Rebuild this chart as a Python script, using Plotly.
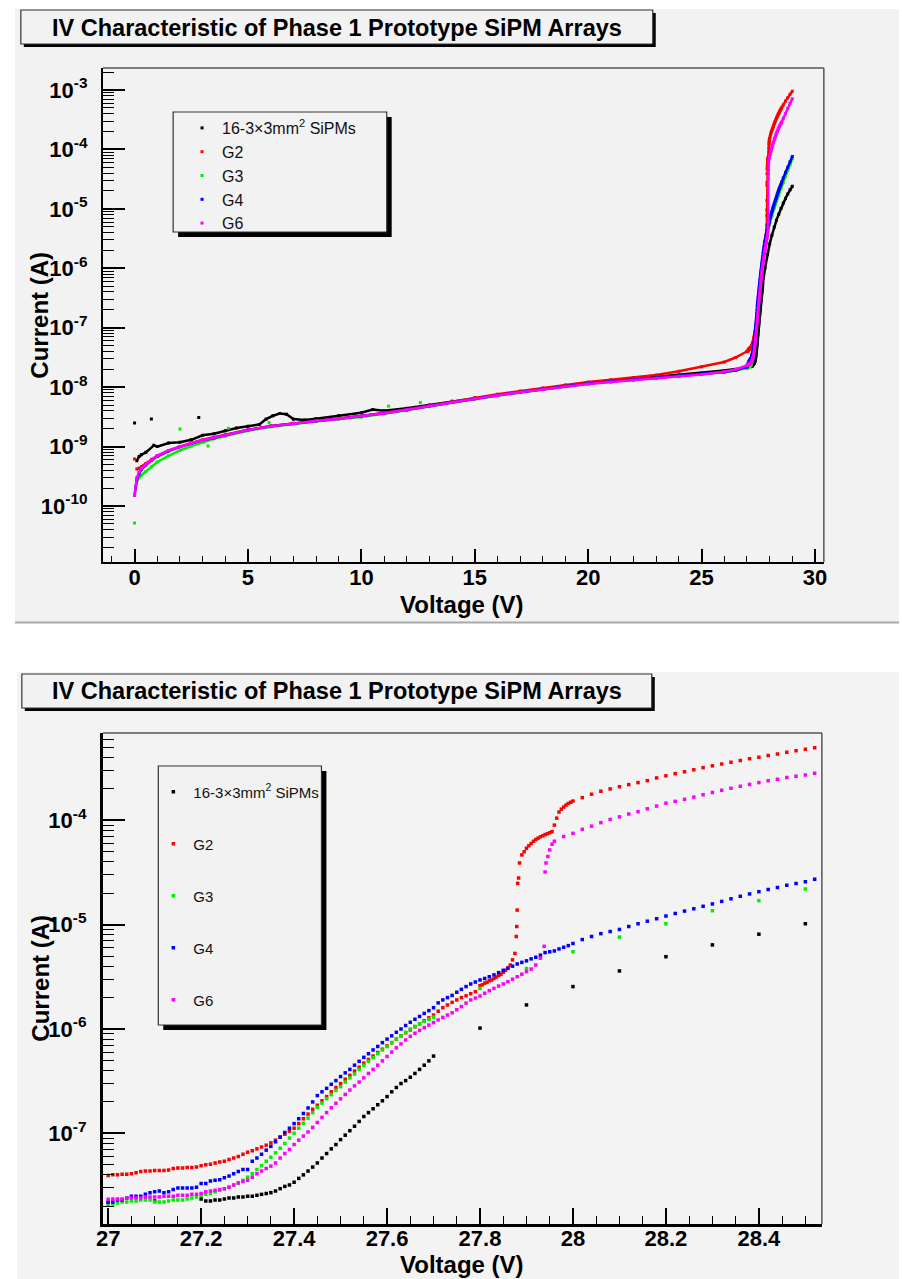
import plotly.graph_objects as go

W, H = 902, 1279
FONT = "Liberation Sans, Arial, Helvetica, sans-serif"


def sweep(start, stop, step):
    n = int(round((stop - start) / step)) + 1
    return [round(start + k * step, 4) for k in range(n)]


def px(x):
    return x / W


def py(y):
    return 1 - y / H


# ---------------- data ----------------
LOW_GRID = [0, 0.1, 0.2, 0.3, 0.5, 0.75, 1, 1.5, 2, 2.5, 3, 3.5, 4, 5, 6, 7, 8, 9, 10,
            11, 12, 13, 14, 15, 16, 17, 18, 19, 20, 21, 22, 23, 24, 25, 26, 26.5]
FINE_GRID = sweep(27.00, 27.70, 0.01)          # 0.01 V sweep
NEAR_GRID = sweep(27.71, 28.00, 0.01)          # 0.01 V sweep (blue)
AFTER_GRID = sweep(28.02, 28.54, 0.02)         # 0.02 V sweep
COARSE_GRID = [27.8, 27.9, 28.0, 28.1, 28.2, 28.3, 28.4, 28.5, 28.6, 28.7, 28.8, 28.9, 29.0]
TAIL_GRID = [28.6, 28.7, 28.8, 28.9, 29.0]

# 16-3x3mm2 SiPMs (black)
bk_v_low = [0.1, 0.2, 0.3, 0.5, 0.85, 1.0, 1.5, 2.0, 2.5, 3.0, 3.5, 4.0, 4.5, 5.0, 5.5, 5.8, 6.1,
            6.4, 6.7, 7.0, 7.5, 8, 9, 10, 10.5, 11, 12, 13, 14, 15, 16, 17, 18, 19, 20, 21, 22,
            23, 24, 25, 26, 27, 27.1]
bk_i_low = [5.8e-10, 6.8e-10, 7.3e-10, 8.0e-10, 1.05e-9, 1.0e-9, 1.15e-9, 1.18e-9, 1.3e-9,
            1.55e-9, 1.65e-9, 1.85e-9, 2.05e-9, 2.2e-9, 2.35e-9, 2.9e-9, 3.3e-9, 3.6e-9, 3.5e-9,
            2.9e-9, 2.8e-9, 2.95e-9, 3.3e-9, 3.7e-9, 4.2e-9, 4.0e-9, 4.4e-9, 5.0e-9, 5.8e-9,
            6.6e-9, 7.5e-9, 8.4e-9, 9.4e-9, 1.05e-8, 1.17e-8, 1.27e-8, 1.37e-8, 1.48e-8, 1.6e-8,
            1.72e-8, 1.9e-8, 2.15e-8, 2.25e-8]
bk_v_fine = sweep(27.20, 27.70, 0.01)
bk_i_fine = [2.35e-8, 2.25e-8, 2.25e-8, 2.3e-8, 2.3e-8, 2.35e-8, 2.4e-8, 2.4e-8, 2.45e-8, 2.45e-8,
             2.5e-8, 2.5e-8, 2.55e-8, 2.6e-8, 2.65e-8, 2.7e-8, 2.8e-8, 2.95e-8, 3.1e-8, 3.2e-8,
             3.4e-8, 3.7e-8, 4.0e-8, 4.35e-8, 4.75e-8, 5.2e-8, 5.8e-8, 6.4e-8, 7.1e-8, 7.8e-8,
             8.7e-8, 9.6e-8, 1.06e-7, 1.17e-7, 1.3e-7, 1.45e-7, 1.58e-7, 1.72e-7, 1.88e-7, 2.05e-7,
             2.25e-7, 2.5e-7, 2.75e-7, 3.0e-7, 3.2e-7, 3.45e-7, 3.75e-7, 4.1e-7, 4.5e-7, 4.95e-7,
             5.5e-7]
bk_i_coarse = [1.02e-6, 1.7e-6, 2.55e-6, 3.6e-6, 4.93e-6, 6.4e-6, 8.1e-6, 1.02e-5, 1.25e-5,
               1.5e-5, 1.78e-5, 2.1e-5, 2.4e-5]
bk_noise_v = [0.0, 0.74, 2.83]
bk_noise_i = [2.5e-9, 2.9e-9, 3.1e-9]

# G2 (red)
rd_v_low = LOW_GRID[1:]
rd_i_low = [4.2e-10, 4.3e-10, 4.6e-10, 5.2e-10, 6.1e-10, 7.0e-10, 8.6e-10, 1.0e-9, 1.15e-9,
            1.3e-9, 1.43e-9, 1.58e-9, 1.92e-9, 2.22e-9, 2.47e-9, 2.72e-9, 2.98e-9, 3.28e-9,
            3.7e-9, 4.2e-9, 4.85e-9, 5.7e-9, 6.6e-9, 7.6e-9, 8.6e-9, 9.7e-9, 1.09e-8, 1.22e-8,
            1.33e-8, 1.45e-8, 1.6e-8, 1.85e-8, 2.2e-8, 2.65e-8, 3.15e-8]
rd_i_fine = [3.95e-8, 4.0e-8, 4.0e-8, 4.05e-8, 4.05e-8, 4.1e-8, 4.2e-8, 4.3e-8, 4.35e-8, 4.35e-8,
             4.4e-8, 4.4e-8, 4.4e-8, 4.45e-8, 4.6e-8, 4.65e-8, 4.65e-8, 4.7e-8, 4.7e-8, 4.75e-8,
             4.9e-8, 5.0e-8, 5.05e-8, 5.2e-8, 5.3e-8, 5.4e-8, 5.6e-8, 5.8e-8, 6.0e-8, 6.3e-8,
             6.6e-8, 6.8e-8, 7.1e-8, 7.4e-8, 7.7e-8, 8.1e-8, 8.6e-8, 9.2e-8, 9.8e-8, 1.05e-7,
             1.12e-7, 1.24e-7, 1.38e-7, 1.53e-7, 1.7e-7, 1.86e-7, 2.05e-7, 2.25e-7, 2.5e-7, 2.75e-7,
             3.0e-7, 3.3e-7, 3.6e-7, 3.95e-7, 4.3e-7, 4.7e-7, 5.1e-7, 5.5e-7, 5.95e-7, 6.4e-7,
             6.9e-7, 7.4e-7, 8.0e-7, 8.6e-7, 9.2e-7, 9.8e-7, 1.05e-6, 1.12e-6, 1.2e-6, 1.28e-6,
             1.36e-6]
rd_v_break = [27.71, 27.72, 27.73, 27.74, 27.75, 27.76, 27.77, 27.78, 27.79,
              27.80, 27.805, 27.81, 27.815, 27.82, 27.825, 27.83,
              27.835, 27.84, 27.845, 27.85, 27.855, 27.86, 27.865, 27.87, 27.875, 27.878, 27.879,
              27.88, 27.881, 27.883, 27.885, 27.89, 27.895, 27.90, 27.905, 27.91, 27.915, 27.92,
              27.925, 27.93, 27.935, 27.94, 27.945, 27.95, 27.955, 27.96, 27.965, 27.97, 27.975,
              27.98, 27.985, 27.99, 27.995, 28.00]
rd_i_break = [1.48e-6, 1.6e-6, 1.7e-6, 1.8e-6, 1.9e-6, 2.0e-6, 2.08e-6, 2.18e-6, 2.28e-6,
              2.6e-6, 2.65e-6, 2.75e-6, 2.8e-6, 2.9e-6, 2.95e-6,
              3.05e-6, 3.15e-6, 3.25e-6, 3.35e-6, 3.5e-6, 3.65e-6, 3.85e-6, 4.1e-6, 4.6e-6, 5.3e-6,
              7.7e-6, 9.6e-6, 1.38e-5, 2.49e-5, 2.8e-5, 3.9e-5, 4.66e-5, 5.0e-5, 5.4e-5, 5.7e-5,
              6.0e-5, 6.3e-5, 6.55e-5, 6.75e-5, 6.95e-5, 7.1e-5, 7.3e-5, 7.45e-5, 7.6e-5, 7.8e-5,
              9.0e-5, 1.05e-4, 1.2e-4, 1.28e-4, 1.34e-4, 1.4e-4, 1.45e-4, 1.49e-4, 1.53e-4]
rd_i_after = [1.65e-4, 1.78e-4, 1.9e-4, 2.0e-4, 2.1e-4, 2.2e-4, 2.3e-4, 2.4e-4, 2.55e-4, 2.67e-4,
              2.8e-4, 2.92e-4, 3.05e-4, 3.2e-4, 3.33e-4, 3.47e-4, 3.6e-4, 3.75e-4, 3.9e-4, 4.03e-4,
              4.18e-4, 4.33e-4, 4.5e-4, 4.65e-4, 4.81e-4, 4.95e-4, 5.1e-4]
rd_i_tail = [5.6e-4, 6.5e-4, 7.4e-4, 8.5e-4, 9.5e-4]
rd_noise_v = [0.0]
rd_noise_i = [6.2e-10]

# G3 (green)
gr_v_low = [0.05] + LOW_GRID[1:]
gr_i_low = [2.1e-10, 2.6e-10, 3.0e-10, 3.3e-10, 3.8e-10, 4.6e-10, 5.5e-10, 7.0e-10, 8.6e-10,
            1.02e-9, 1.18e-9, 1.35e-9, 1.5e-9, 1.85e-9, 2.15e-9, 2.4e-9, 2.65e-9, 2.9e-9, 3.15e-9,
            3.55e-9, 4.05e-9, 4.7e-9, 5.5e-9, 6.3e-9, 7.2e-9, 8.1e-9, 9.1e-9, 1.03e-8, 1.14e-8,
            1.23e-8, 1.32e-8, 1.42e-8, 1.52e-8, 1.63e-8, 1.78e-8, 1.9e-8]
gr_i_fine = [2.05e-8, 2.1e-8, 2.15e-8, 2.2e-8, 2.2e-8, 2.25e-8, 2.25e-8, 2.3e-8, 2.3e-8, 2.3e-8,
             2.2e-8, 2.2e-8, 2.2e-8, 2.25e-8, 2.3e-8, 2.3e-8, 2.3e-8, 2.35e-8, 2.4e-8, 2.45e-8,
             2.55e-8, 2.6e-8, 2.65e-8, 2.75e-8, 2.85e-8, 2.95e-8, 3.05e-8, 3.2e-8, 3.35e-8, 3.55e-8,
             3.8e-8, 4.1e-8, 4.5e-8, 4.9e-8, 5.4e-8, 5.9e-8, 6.5e-8, 7.2e-8, 8.0e-8, 9.0e-8,
             1.0e-7, 1.12e-7, 1.25e-7, 1.4e-7, 1.58e-7, 1.77e-7, 1.95e-7, 2.15e-7, 2.35e-7, 2.58e-7,
             2.8e-7, 3.1e-7, 3.4e-7, 3.7e-7, 4.1e-7, 4.5e-7, 4.9e-7, 5.3e-7, 5.8e-7, 6.3e-7,
             6.8e-7, 7.4e-7, 8.0e-7, 8.6e-7, 9.3e-7, 1.0e-6, 1.06e-6, 1.12e-6, 1.18e-6, 1.24e-6,
             1.3e-6]
gr_i_coarse = [2.45e-6, 3.8e-6, 5.5e-6, 7.6e-6, 1.02e-5, 1.36e-5, 1.7e-5, 2.2e-5, 2.8e-5, 3.5e-5,
               4.4e-5, 5.6e-5, 7.0e-5]
gr_noise_v = [0.0, 2.0, 3.24, 4.14, 5.93, 11.2, 12.6]
gr_noise_i = [5.2e-11, 1.98e-9, 1.02e-9, 2.04e-9, 2.53e-9, 4.8e-9, 5.5e-9]

# G4 (blue)
bl_i_low = [1.5e-10, 2.8e-10, 3.5e-10, 4.1e-10, 4.9e-10, 5.9e-10, 6.8e-10, 8.4e-10, 9.9e-10,
            1.13e-9, 1.27e-9, 1.4e-9, 1.55e-9, 1.9e-9, 2.2e-9, 2.45e-9, 2.7e-9, 2.95e-9, 3.25e-9,
            3.65e-9, 4.15e-9, 4.8e-9, 5.6e-9, 6.4e-9, 7.3e-9, 8.2e-9, 9.2e-9, 1.04e-8, 1.15e-8,
            1.24e-8, 1.33e-8, 1.43e-8, 1.54e-8, 1.65e-8, 1.8e-8, 1.92e-8]
bl_i_fine = [2.2e-8, 2.2e-8, 2.3e-8, 2.3e-8, 2.4e-8, 2.5e-8, 2.5e-8, 2.5e-8, 2.6e-8, 2.7e-8,
             2.75e-8, 2.8e-8, 2.7e-8, 2.75e-8, 2.9e-8, 3.0e-8, 3.0e-8, 3.0e-8, 3.0e-8, 3.05e-8,
             3.3e-8, 3.3e-8, 3.5e-8, 3.55e-8, 3.6e-8, 3.75e-8, 3.9e-8, 4.1e-8, 4.3e-8, 4.5e-8,
             4.5e-8, 5.4e-8, 5.8e-8, 6.3e-8, 6.9e-8, 7.5e-8, 8.3e-8, 9.2e-8, 1.02e-7, 1.12e-7,
             1.24e-7, 1.38e-7, 1.55e-7, 1.75e-7, 2.0e-7, 2.3e-7, 2.5e-7, 2.7e-7, 2.95e-7, 3.2e-7,
             3.5e-7, 3.8e-7, 4.1e-7, 4.5e-7, 4.9e-7, 5.35e-7, 5.8e-7, 6.3e-7, 6.8e-7, 7.4e-7,
             8.0e-7, 8.6e-7, 9.3e-7, 1.0e-6, 1.08e-6, 1.16e-6, 1.24e-6, 1.32e-6, 1.41e-6, 1.5e-6,
             1.6e-6]
bl_i_near = [1.78e-6, 1.9e-6, 2.0e-6, 2.1e-6, 2.25e-6, 2.4e-6, 2.55e-6, 2.7e-6, 2.82e-6, 2.95e-6,
             3.05e-6, 3.17e-6, 3.3e-6, 3.47e-6, 3.65e-6, 3.82e-6, 4.0e-6, 4.2e-6, 4.35e-6, 4.5e-6,
             4.7e-6, 4.87e-6, 5.1e-6, 5.4e-6, 5.5e-6, 5.6e-6, 5.85e-6, 6.07e-6, 6.3e-6, 6.6e-6]
bl_i_after = [7.2e-6, 7.7e-6, 8.2e-6, 8.6e-6, 9.0e-6, 9.6e-6, 1.02e-5, 1.08e-5, 1.14e-5, 1.21e-5,
              1.28e-5, 1.35e-5, 1.42e-5, 1.5e-5, 1.58e-5, 1.67e-5, 1.77e-5, 1.87e-5, 1.97e-5,
              2.07e-5, 2.17e-5, 2.27e-5, 2.38e-5, 2.48e-5, 2.58e-5, 2.72e-5, 2.85e-5]
bl_i_tail = [3.3e-5, 4.1e-5, 5.0e-5, 6.2e-5, 7.6e-5]

# G6 (magenta)
mg_i_low = [1.5e-10, 3.0e-10, 3.7e-10, 4.3e-10, 5.0e-10, 6.0e-10, 7.0e-10, 8.6e-10, 1.0e-9,
            1.14e-9, 1.28e-9, 1.41e-9, 1.56e-9, 1.9e-9, 2.2e-9, 2.45e-9, 2.7e-9, 2.95e-9, 3.25e-9,
            3.65e-9, 4.15e-9, 4.8e-9, 5.6e-9, 6.4e-9, 7.3e-9, 8.2e-9, 9.1e-9, 1.02e-8, 1.13e-8,
            1.22e-8, 1.31e-8, 1.41e-8, 1.52e-8, 1.63e-8, 1.82e-8, 1.98e-8]
mg_i_fine = [2.33e-8, 2.35e-8, 2.35e-8, 2.35e-8, 2.4e-8, 2.4e-8, 2.4e-8, 2.4e-8, 2.45e-8, 2.45e-8,
             2.45e-8, 2.45e-8, 2.5e-8, 2.5e-8, 2.5e-8, 2.55e-8, 2.55e-8, 2.55e-8, 2.6e-8, 2.6e-8,
             2.65e-8, 2.75e-8, 2.8e-8, 2.85e-8, 2.9e-8, 2.95e-8, 3.05e-8, 3.2e-8, 3.35e-8, 3.45e-8,
             3.55e-8, 3.8e-8, 4.1e-8, 4.35e-8, 4.6e-8, 4.85e-8, 5.2e-8, 5.8e-8, 6.4e-8, 7.0e-8,
             7.8e-8, 8.6e-8, 9.4e-8, 1.03e-7, 1.14e-7, 1.27e-7, 1.42e-7, 1.58e-7, 1.76e-7, 1.94e-7,
             2.14e-7, 2.36e-7, 2.6e-7, 2.85e-7, 3.1e-7, 3.4e-7, 3.75e-7, 4.1e-7, 4.5e-7, 4.95e-7,
             5.45e-7, 6.0e-7, 6.6e-7, 7.2e-7, 7.85e-7, 8.5e-7, 9.1e-7, 9.7e-7, 1.03e-6, 1.09e-6,
             1.15e-6]
mg_v_break = sweep(27.71, 27.93, 0.01) + [27.938, 27.94, 27.942, 27.946, 27.95, 27.955, 27.96,
                                          27.98, 28.00]
mg_i_break = [1.22e-6, 1.29e-6, 1.36e-6, 1.43e-6, 1.53e-6, 1.64e-6, 1.77e-6, 1.9e-6, 1.98e-6,
              2.07e-6, 2.2e-6, 2.33e-6, 2.45e-6, 2.58e-6, 2.7e-6, 2.84e-6, 3.0e-6, 3.17e-6,
              3.35e-6, 3.55e-6, 3.75e-6, 4.1e-6, 4.77e-6,
              6.2e-6, 3.2e-5, 3.9e-5, 4.5e-5, 5.2e-5, 5.9e-5, 6.3e-5, 7.0e-5, 7.5e-5]
mg_i_after = [8.2e-5, 8.8e-5, 9.5e-5, 1.02e-4, 1.08e-4, 1.15e-4, 1.21e-4, 1.29e-4, 1.37e-4, 1.46e-4,
              1.52e-4, 1.59e-4, 1.67e-4, 1.76e-4, 1.85e-4, 1.94e-4, 2.03e-4, 2.12e-4, 2.21e-4, 2.3e-4,
              2.39e-4, 2.48e-4, 2.57e-4, 2.65e-4, 2.72e-4, 2.82e-4, 2.9e-4]
mg_i_tail = [3.3e-4, 4.0e-4, 4.9e-4, 6.0e-4, 7.1e-4]

# ---------------- assemble series ----------------
series = [
    dict(name="16-3\u00d73mm<sup>2</sup> SiPMs", color="#000000",
         v=bk_v_low + bk_v_fine + COARSE_GRID, i=bk_i_low + bk_i_fine + bk_i_coarse,
         nv=bk_noise_v, ni=bk_noise_i),
    dict(name="G2", color="#ff0000",
         v=rd_v_low + FINE_GRID + rd_v_break + AFTER_GRID + TAIL_GRID,
         i=rd_i_low + rd_i_fine + rd_i_break + rd_i_after + rd_i_tail,
         nv=rd_noise_v, ni=rd_noise_i),
    dict(name="G3", color="#00ee00",
         v=gr_v_low + FINE_GRID + COARSE_GRID, i=gr_i_low + gr_i_fine + gr_i_coarse,
         nv=gr_noise_v, ni=gr_noise_i),
    dict(name="G4", color="#0000ff",
         v=LOW_GRID + FINE_GRID + NEAR_GRID + AFTER_GRID + TAIL_GRID,
         i=bl_i_low + bl_i_fine + bl_i_near + bl_i_after + bl_i_tail,
         nv=[], ni=[]),
    dict(name="G6", color="#ff00ff",
         v=LOW_GRID + FINE_GRID + mg_v_break + AFTER_GRID + TAIL_GRID,
         i=mg_i_low + mg_i_fine + mg_i_break + mg_i_after + mg_i_tail,
         nv=[], ni=[]),
]
for s in series:
    assert len(s["v"]) == len(s["i"]), s["name"]
    assert len(s["nv"]) == len(s["ni"]), s["name"]

fig = go.Figure()
for k, s in enumerate(series):
    # top panel: the dense sweep seen as a continuous band
    fig.add_trace(go.Scatter(x=s["v"], y=s["i"], mode="lines", xaxis="x", yaxis="y",
                             line=dict(color=s["color"], width=2.5), showlegend=False,
                             hoverinfo="skip"))
    fig.add_trace(go.Scatter(x=s["v"] + s["nv"], y=s["i"] + s["ni"], mode="markers",
                             xaxis="x", yaxis="y", name=s["name"], legend="legend",
                             marker=dict(color=s["color"], size=3, symbol="square"),
                             showlegend=True))
for k, s in enumerate(series):
    fig.add_trace(go.Scatter(x=s["v"], y=s["i"], mode="markers", xaxis="x2", yaxis="y2",
                             name=s["name"], legend="legend2", legendgroup="g%d" % k,
                             marker=dict(color=s["color"], size=3.5, symbol="square"),
                             showlegend=True))

# ---------------- layout ----------------
tick_font = dict(family=FONT, size=22, color="black", weight="bold")


def log_axis(exps, rng, dom, anchor, lw):
    return dict(type="log", range=rng, domain=dom, anchor=anchor,
                tickmode="array", tickvals=[10.0 ** e for e in exps],
                ticktext=["10<sup>%d</sup>" % e for e in exps],
                ticks="inside", ticklen=22, tickwidth=1.5, tickcolor="black",
                minor=dict(tickmode="array",
                           tickvals=[m * 10.0 ** e for e in range(exps[0] - 1, exps[-1] + 1)
                                     for m in range(2, 10)],
                           ticks="inside", ticklen=11, tickwidth=1.2, tickcolor="black",
                           showgrid=False),
                showgrid=False, zeroline=False, showline=True, linecolor="black",
                linewidth=lw, tickfont=tick_font, ticklabelstandoff=9)


def lin_axis(rng, dom, anchor, dtick, mdtick, tl, mtl, t0, standoff, lw):
    return dict(range=rng, domain=dom, anchor=anchor, tick0=t0, dtick=dtick,
                ticks="inside", ticklen=tl, tickwidth=1.5, tickcolor="black",
                minor=dict(tick0=t0, dtick=mdtick, ticks="inside", ticklen=mtl, tickwidth=1.2,
                           tickcolor="black", showgrid=False),
                showgrid=False, zeroline=False, showline=True, linecolor="black",
                linewidth=lw, tickfont=tick_font, ticklabelstandoff=standoff)


top_x = [px(97), px(826)]
top_y = [py(562), py(68)]
bot_x = [px(97), px(824)]
bot_y = [py(1224), py(733)]

shapes = []
# canvases
shapes.append(dict(type="rect", xref="paper", yref="paper", x0=px(8), x1=1, y0=py(622), y1=py(9),
                   fillcolor="#f2f2f2", line=dict(width=0), layer="below"))
shapes.append(dict(type="line", xref="paper", yref="paper", x0=px(8), x1=1, y0=py(622.5), y1=py(622.5),
                   line=dict(color="#a9a9a9", width=2), layer="below"))
shapes.append(dict(type="rect", xref="paper", yref="paper", x0=px(10), x1=1, y0=0, y1=py(672),
                   fillcolor="#f3f3f3", line=dict(width=0), layer="below"))
# frame top/right lines
for (xd, yd) in [(top_x, top_y), (bot_x, bot_y)]:
    shapes.append(dict(type="line", xref="paper", yref="paper", x0=xd[0], x1=xd[1], y0=yd[1], y1=yd[1],
                       line=dict(color="#555555", width=1.5)))
    shapes.append(dict(type="line", xref="paper", yref="paper", x0=xd[1], x1=xd[1], y0=yd[0], y1=yd[1],
                       line=dict(color="#555555", width=1.5)))


def boxed(x0, y0, x1, y1, off):
    return [dict(type="rect", xref="paper", yref="paper", x0=px(x0 + off), x1=px(x1 + off),
                 y0=py(y1 + off), y1=py(y0 + off), fillcolor="black", line=dict(width=0)),
            dict(type="rect", xref="paper", yref="paper", x0=px(x0), x1=px(x1),
                 y0=py(y1), y1=py(y0), fillcolor="#f2f2f2", line=dict(color="#333333", width=1.2))]


shapes += boxed(14, 10, 653, 44, 3)
shapes += boxed(15, 674, 652, 708, 3)
shapes += boxed(168, 112, 384, 232, 5)
shapes += boxed(153, 766, 318, 1025, 5)

title_text = "IV Characteristic of Phase 1 Prototype SiPM Arrays"
title_font = dict(family=FONT, size=23.5, color="black", weight="bold")
axis_title_font = dict(family=FONT, size=24, color="black", weight="bold")
annotations = [
    dict(text=title_text, x=px(333.5), y=py(27.5), xref="paper", yref="paper", showarrow=False,
         xanchor="center", yanchor="middle", font=title_font),
    dict(text=title_text, x=px(333.5), y=py(691.5), xref="paper", yref="paper", showarrow=False,
         xanchor="center", yanchor="middle", font=title_font),
    dict(text="Voltage (V)", x=px(460), y=py(604), xref="paper", yref="paper", showarrow=False,
         xanchor="center", yanchor="middle", font=axis_title_font),
    dict(text="Voltage (V)", x=px(460), y=py(1264), xref="paper", yref="paper", showarrow=False,
         xanchor="center", yanchor="middle", font=axis_title_font),
    dict(text="Current (A)", x=px(33), y=py(315), xref="paper", yref="paper", showarrow=False,
         xanchor="center", yanchor="middle", textangle=-90, font=axis_title_font),
    dict(text="Current (A)", x=px(33), y=py(978), xref="paper", yref="paper", showarrow=False,
         xanchor="center", yanchor="middle", textangle=-90, font=axis_title_font),
]

fig.update_layout(
    width=W, height=H, margin=dict(l=0, r=0, t=0, b=0),
    paper_bgcolor="white", plot_bgcolor="rgba(0,0,0,0)",
    xaxis=lin_axis([-1.395, 30.39], top_x, "y", 5, 1, 13, 6, 0, -5, 2),
    yaxis=log_axis(list(range(-10, -2)), [-10.942, -2.630], top_y, "x", 2),
    xaxis2=lin_axis([26.9887, 28.5355], bot_x, "y2", 0.2, 0.05, 16, 8, 27, -7, 3),
    yaxis2=log_axis(list(range(-7, -3)), [-7.869, -3.163], bot_y, "x2", 3),
    legend=dict(x=px(177), y=py(111), xanchor="left", yanchor="top", bgcolor="rgba(0,0,0,0)",
                borderwidth=0, font=dict(family=FONT, size=16, color="#111111"),
                itemwidth=30, tracegroupgap=0),
    legend2=dict(x=px(148), y=py(775.5), xanchor="left", yanchor="top", bgcolor="rgba(0,0,0,0)",
                 borderwidth=0, font=dict(family=FONT, size=15, color="#111111"),
                 itemwidth=30, tracegroupgap=29.5),
    shapes=shapes, annotations=annotations, showlegend=True,
)

fig.write_html("out.html")
